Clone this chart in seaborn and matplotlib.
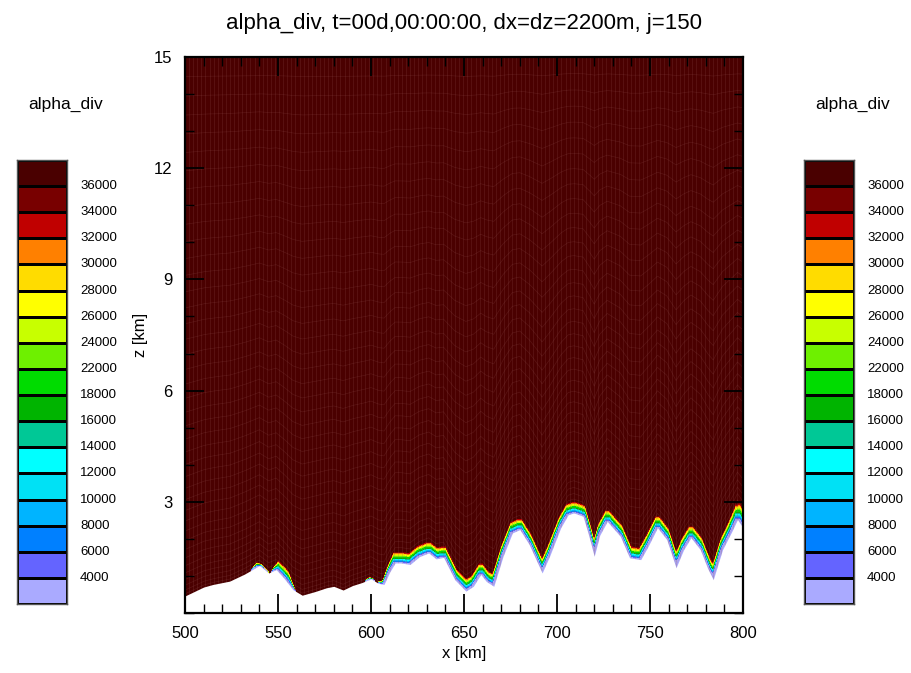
import numpy as np
import matplotlib
matplotlib.use("Agg")
import matplotlib.pyplot as plt
from matplotlib.colors import ListedColormap, BoundaryNorm
import seaborn as sns

# ---------------- data ----------------
terrain_x = [500, 505, 510, 515, 524, 532, 540, 545, 549, 553, 558, 563, 570, 576,
             580, 585, 590, 595, 600, 604, 607, 610, 613, 616, 621, 626, 631, 635,
             639, 645, 651, 655, 659, 662, 666, 671, 676, 680, 685, 692, 696, 702,
             706, 709, 714, 717, 720, 723, 727, 734, 739, 745, 749, 754, 759, 764,
             768, 772, 777, 781, 784, 789, 794, 797, 800]
terrain_km = [0.46, 0.58, 0.70, 0.77, 0.86, 1.05, 1.28, 1.08, 1.17, 0.95, 0.63, 0.48,
              0.58, 0.68, 0.72, 0.62, 0.74, 0.82, 0.92, 0.80, 0.77, 1.10, 1.35, 1.35,
              1.31, 1.52, 1.62, 1.46, 1.50, 0.90, 0.59, 0.72, 1.04, 0.85, 0.72, 1.53,
              2.16, 2.25, 1.85, 1.08, 1.53, 2.30, 2.65, 2.70, 2.61, 2.10, 1.53, 2.10,
              2.47, 2.07, 1.49, 1.44, 1.80, 2.30, 1.98, 1.22, 1.70, 2.03, 1.71, 1.20,
              0.90, 1.71, 2.20, 2.52, 2.30]
# thickness of the low-alpha_div layer just above the ground
band_x = [500, 535, 538, 542, 546, 550, 556, 560, 596, 599, 603, 606, 612, 700, 790, 800]
band_km = [0.0, 0.0, 0.12, 0.05, 0.0, 0.28, 0.32, 0.0, 0.0, 0.08, 0.0, 0.12, 0.32,
           0.32, 0.35, 0.50]
surface_value = 1000.0
top_value = 37000.0

level_bounds = [4000, 6000, 8000, 10000, 12000, 14000, 16000, 18000, 22000, 24000,
                26000, 28000, 30000, 32000, 34000, 36000]
level_colors = ["#AAAAFF", "#6464FF", "#0080FF", "#00B4FF", "#00E1F5", "#00FFFF",
                "#00C896", "#00B400", "#00DC00", "#6EF000", "#C8FF00", "#FFFF00",
                "#FFDC00", "#FF8000", "#C00000", "#780000", "#4A0000"]
x_ticks = [500, 550, 600, 650, 700, 750, 800]
z_ticks = [3, 6, 9, 12, 15]
title = "alpha_div, t=00d,00:00:00, dx=dz=2200m, j=150"
var_name = "alpha_div"
dx_km = 2.2

# ---------------- field ----------------
sns.set_theme(style="white")
plt.rcParams['font.family'] = ['Liberation Sans', 'DejaVu Sans']
plt.rcParams.update({"text.color": "black", "axes.labelcolor": "black",
                     "xtick.color": "black", "ytick.color": "black",
                     "axes.axisbelow": False})

x = np.linspace(500, 800, 1201)
z = np.linspace(0, 15, 1501)
terr = np.interp(x, terrain_x, terrain_km)
band = np.interp(x, band_x, band_km)
# model columns are dx wide: the layer follows the highest ground nearby
half = int(round((dx_km * 0.6) / (x[1] - x[0])))
pad = np.pad(terr, half, mode="edge")
terr_col = np.array([pad[i:i + 2 * half + 1].max() for i in range(len(terr))])

X, Z = np.meshgrid(x, z)
H = Z - terr_col[None, :]
B = band[None, :]
with np.errstate(divide="ignore", invalid="ignore"):
    frac = np.where(B > 0.01, H / np.where(B > 0.01, B, 1.0), np.inf)
frac = np.clip(frac, 0, 1)
F = surface_value + (top_value - surface_value) * frac

cmap = ListedColormap(level_colors)
bounds = [-1e9] + level_bounds + [1e9]
norm = BoundaryNorm(bounds, cmap.N)

W, Hh = 911, 673
fig = plt.figure(figsize=(W / 100, Hh / 100), dpi=100)
ax = fig.add_axes([185 / W, 1 - 613 / Hh, 558 / W, 556 / Hh])
ax.set_axisbelow(False)
ax.contourf(X, Z, F, levels=bounds, cmap=cmap, norm=norm, zorder=0.5)

# faint model-level texture
eta = np.linspace(0, 1, 42) ** 1.5
for e in eta[1:-1]:
    zl = terr + e * (15 - terr)
    ax.plot(x, zl, color="#9a5a5a", lw=0.5, alpha=0.22, zorder=0.8)
for xv in np.arange(500, 800, dx_km):
    ax.axvline(xv, color="#9a5a5a", lw=0.6, alpha=0.22, zorder=0.8)

ax.fill_between(x, 0, terr, color="white", zorder=1.0, lw=0)

ax.set_xlim(500, 800)
ax.set_ylim(0, 15)
ax.set_xticks(x_ticks)
ax.set_yticks(z_ticks)
ax.set_xticks(np.arange(500, 801, 10), minor=True)
ax.set_yticks(np.arange(0, 16, 1), minor=True)
ax.tick_params(which="major", direction="in", length=13.5, width=1.3,
               top=True, right=True, bottom=True, left=True, labelsize=12, pad=9,
               color="black")
ax.tick_params(which="minor", direction="in", length=6.5, width=1.0,
               top=True, right=True, bottom=True, left=True, color="black")
for s in ax.spines.values():
    s.set_linewidth(1.6)
    s.set_color("black")
    s.set_zorder(6)
ax.set_xlabel("x [km]", fontsize=12, labelpad=4)
ax.set_ylabel("z [km]", fontsize=12, labelpad=4)
ax.set_title(title, fontsize=16, pad=20)

# ---------------- colorbars ----------------
n = len(level_colors)
for left in (17, 804):
    cax = fig.add_axes([left / W, 1 - 604 / Hh, 50 / W, 444 / Hh])
    sns.heatmap(np.arange(n)[::-1].reshape(-1, 1), ax=cax, cmap=cmap,
                cbar=False, linewidths=0.8, linecolor="black",
                xticklabels=False, yticklabels=False)
    cax.set_xlim(0, 1)
    cax.set_ylim(n, 0)
    for s in cax.spines.values():
        s.set_visible(True)
        s.set_linewidth(1.0)
        s.set_color("#555555")
    for i, lab in enumerate(level_bounds[::-1]):
        cax.text(1.26, i + 1, str(lab), transform=cax.transData,
                 ha="left", va="center", fontsize=9.5, clip_on=False)
    fig.text((left + 49) / W, 1 - 104 / Hh, var_name, ha="center", va="center",
             fontsize=12.5)

fig.savefig("out.png", dpi=100)
